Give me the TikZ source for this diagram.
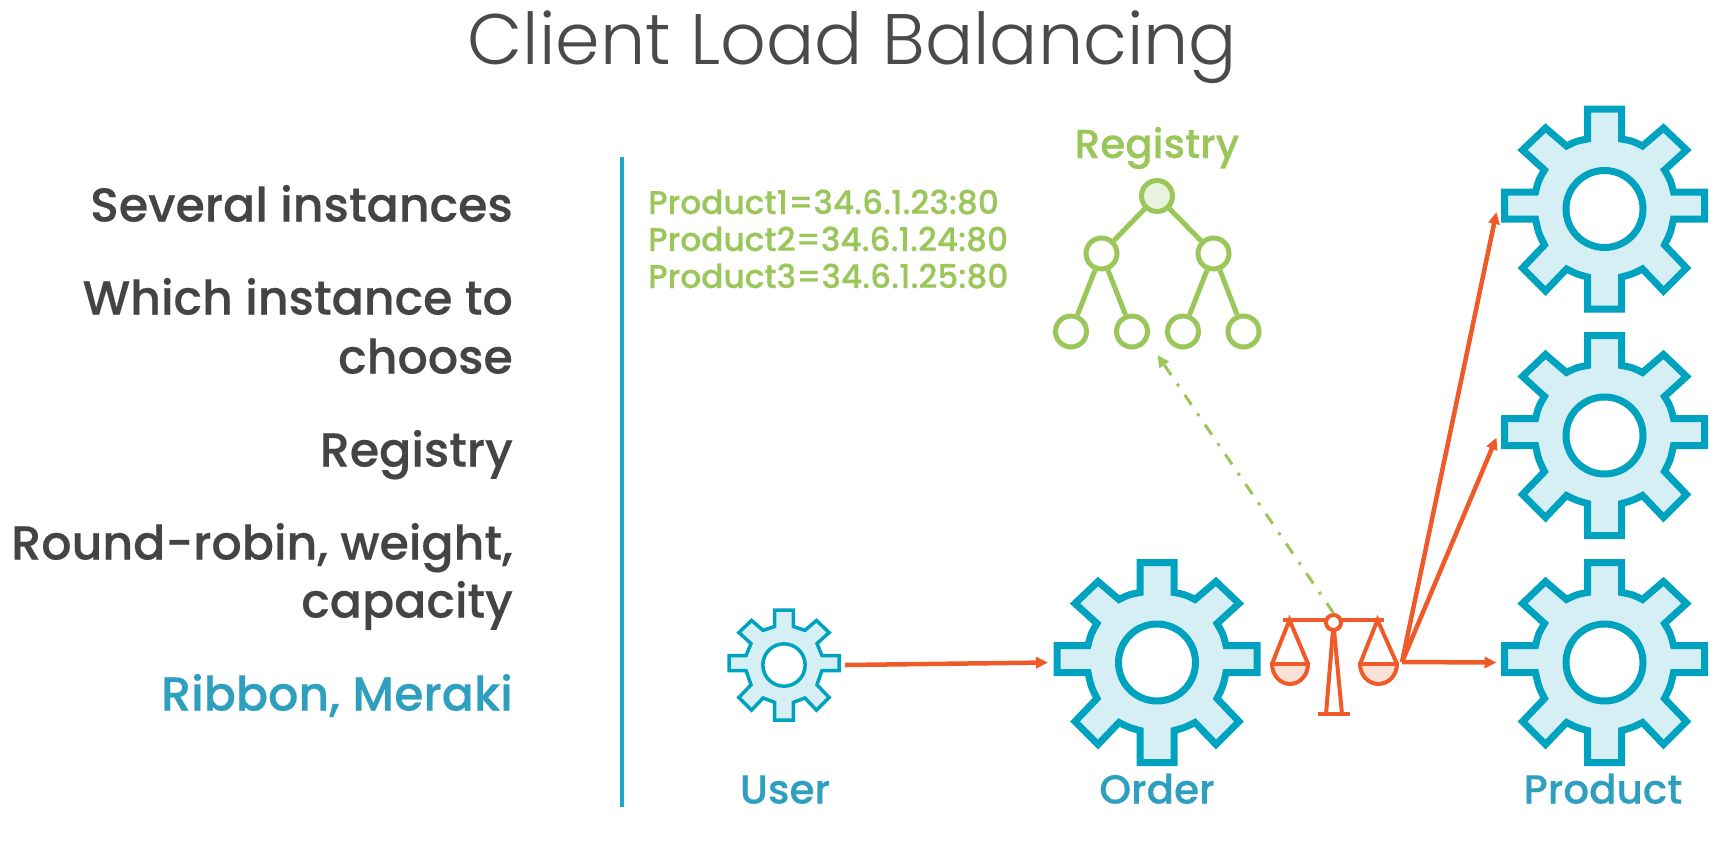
\documentclass[tikz,border=0pt]{standalone}
\usepackage{fontspec}
\usetikzlibrary{arrows.meta}
\setmainfont{Poppins}
\newfontfamily\lightf{Poppins Light}
\newfontfamily\medf[FakeBold=0.4]{Poppins Medium}
\definecolor{geart}{HTML}{00A3BF}
\definecolor{gearf}{HTML}{D6EFF5}
\definecolor{labelt}{HTML}{2E9FBF}
\definecolor{rulet}{HTML}{1EA8C8}
\definecolor{orangeA}{HTML}{F05A28}
\definecolor{orangeF}{HTML}{FBE0D6}
\definecolor{greenA}{HTML}{9BC65A}
\definecolor{greenF}{HTML}{E8F2DC}
\definecolor{darkt}{HTML}{444444}
\definecolor{titlet}{HTML}{4A4A4A}
\tikzset{
  x=1pt,y=-1pt,
  titletext/.style={anchor=base,inner sep=0,text=titlet,font=\lightf\fontsize{71.5}{72}\selectfont},
  sidetext/.style={anchor=base east,inner sep=0,text=darkt,font=\medf\fontsize{47.5}{48}\selectfont},
  gearlabel/.style={anchor=base,inner sep=0,text=labelt,font=\medf\fontsize{40.5}{41}\selectfont},
  reglabel/.style={anchor=base,inner sep=0,text=greenA,font=\medf\fontsize{40.5}{41}\selectfont},
  addr/.style={anchor=base west,inner sep=0,text=greenA,font=\medf\fontsize{32.8}{33}\selectfont},
  gearbox/.style={minimum size=#1,inner sep=0,outer sep=0},
  treenode/.style={circle,draw=greenA,line width=5pt,fill=white,minimum size=31pt,inner sep=0},
  treeroot/.style={treenode,fill=greenF},
  treeedge/.style={draw=greenA,line width=5pt},
  flow/.style={draw=orangeA,line width=4.5pt,-{Triangle[length=12pt,width=11pt]}},
  lookup/.style={draw=greenA,line width=3pt,dash pattern=on 12pt off 10.5pt on 3pt off 10.5pt,-{Triangle[length=12pt,width=11pt]}},
  balance/.style={draw=orangeA,line width=4pt},
}
\newcommand{\gearicon}[4]{%
  \begin{scope}[shift={(#1,#2)},scale=#3]
    \draw[draw=geart,fill=gearf,line width=#4pt,miter limit=10]
      (-17,-100)--(17,-100)--(17,-70) .. controls (28,-68) .. (38,-63)
      --(59,-81)--(82,-59)--(60,-39) .. controls (66,-29) .. (69,-17)
      --(100,-17)--(100,10)--(69,10) .. controls (66,24) .. (60,36)
      --(82,59)--(59,82)--(38,60) .. controls (28,65) .. (17,68)
      --(17,100)--(-17,100)--(-17,68) .. controls (-28,65) .. (-38,60)
      --(-59,82)--(-82,59)--(-60,36) .. controls (-66,24) .. (-69,10)
      --(-100,10)--(-100,-17)--(-69,-17) .. controls (-66,-29) .. (-60,-39)
      --(-82,-59)--(-59,-81)--(-38,-63) .. controls (-28,-68) .. (-17,-70)--cycle;
    \draw[draw=geart,fill=white,line width=#4pt] (0,0) circle[radius=38.5];
  \end{scope}}
\begin{document}
\begin{tikzpicture}
\useasboundingbox (0,0) rectangle (1735,844);
\node[titletext] (title) at (852.5,64) {Client Load Balancing};
% left column
\node[sidetext] (s1) at (513,221.5) {Several instances};
\node[sidetext] (s2) at (513,314.5) {Which instance to};
\node[sidetext] (s3) at (513,373.5) {choose};
\node[sidetext] (s4) at (513,466.5) {Registry};
\node[sidetext] (s5) at (513,559.5) {Round-robin, weight,};
\node[sidetext] (s6) at (513,617.5) {capacity};
\node[sidetext,text=labelt] (s7) at (513,710.5) {Ribbon, Meraki};
\coordinate (ruletop) at (622,157);
\coordinate (rulebot) at (622,807);
\draw[draw=rulet,line width=4pt] (ruletop) -- (rulebot);
% addresses
\node[addr] (a1) at (648,214) {Product1=34.6.1.23:80};
\node[addr] (a2) at (648,251) {Product2=34.6.1.24:80};
\node[addr] (a3) at (648,288) {Product3=34.6.1.25:80};
% registry tree
\node[reglabel] (reg) at (1157,158) {Registry};
\node[treeroot] (r) at (1157,196) {};
\node[treenode] (m1) at (1101.5,253.5) {};
\node[treenode] (m2) at (1213.5,253.5) {};
\node[treenode] (l1) at (1071,331.5) {};
\node[treenode] (l2) at (1132,331.5) {};
\node[treenode] (l3) at (1183,331.5) {};
\node[treenode] (l4) at (1243.5,331.5) {};
\draw[treeedge] (r)--(m1) (r)--(m2) (m1)--(l1) (m1)--(l2) (m2)--(l3) (m2)--(l4);
% gears
\gearicon{784}{665}{0.55}{3.5}
\gearicon{1157}{662.5}{1}{7}
\gearicon{1604.5}{209}{1}{7}
\gearicon{1604.5}{435.5}{1}{7}
\gearicon{1604.5}{662.5}{1}{7}
\node[gearbox=122pt] (user) at (784,665) {};
\node[gearbox=218pt] (order) at (1157,662.5) {};
\node[gearbox=216pt] (p1) at (1604.5,209) {};
\node[gearbox=216pt] (p2) at (1604.5,435.5) {};
\node[gearbox=216pt] (p3) at (1604.5,662.5) {};
\node[gearlabel] (ul) at (785,803.5) {User};
\node[gearlabel] (ol) at (1157,803.5) {Order};
\node[gearlabel] (pl) at (1603,803.5) {Product};
% balance scale
\path[fill=orangeF] (1272,664) arc[start angle=180,end angle=0,x radius=18,y radius=20] -- cycle;
\path[fill=orangeF] (1360,664) arc[start angle=180,end angle=0,x radius=18.5,y radius=20] -- cycle;
\draw[balance] (1283,620) -- (1384,620);
\draw[balance] (1272,664) -- (1289.5,620) -- (1308,664);
\draw[balance] (1360,664) -- (1377.5,620) -- (1397,664);
\draw[balance] (1270,664) -- (1310,664);
\draw[balance] (1358,664) -- (1399,664);
\draw[balance] (1272,664) arc[start angle=180,end angle=0,x radius=18,y radius=20];
\draw[balance] (1360,664) arc[start angle=180,end angle=0,x radius=18.5,y radius=20];
\draw[balance] (1318,714) -- (1350,714);
\draw[balance] (1333,630) -- (1326,714);
\draw[balance] (1334,630) -- (1342,714);
\node[circle,draw=orangeA,line width=4pt,fill=white,minimum size=15pt,inner sep=0] (pivot) at (1333.5,622.5) {};
% connectors
\coordinate (fan) at (1402,662);
\coordinate (regfoot) at (1157.5,355);
\draw[flow] (user.east) -- (order.west);
\draw[flow] (fan) -- ([yshift=-3pt]p1.west);
\draw[flow] (fan) -- ([yshift=-2pt]p2.west);
\draw[flow] (fan) -- (p3.west);
\draw[lookup] (pivot.north) -- (regfoot);
\end{tikzpicture}
\end{document}
